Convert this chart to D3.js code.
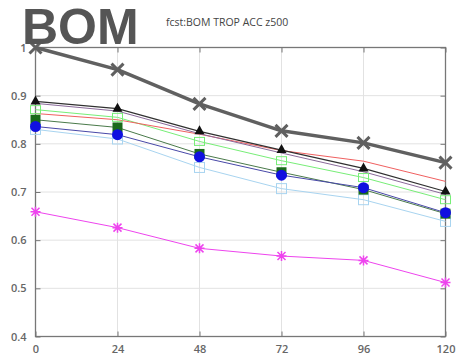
<!DOCTYPE html>
<html><head><meta charset="utf-8">
<script src="https://cdn.jsdelivr.net/npm/d3@7"></script>
<style>body{margin:0;background:#fff}svg{display:block}</style>
</head><body>
<svg id="c" width="462" height="360"></svg>
<script>
const leadTimes = [0, 24, 48, 72, 96, 120];
const yTicks = [0.4, 0.5, 0.6, 0.7, 0.8, 0.9, 1];
const sBest   = [1.0, 0.954, 0.883, 0.827, 0.802, 0.761];
const sBlack  = [0.888, 0.873, 0.826, 0.787, 0.749, 0.701];
const sPurple = [0.884, 0.868, 0.821, 0.781, 0.742, 0.695];
const sRed    = [0.863, 0.850, 0.820, 0.786, 0.764, 0.722];
const sLime   = [0.871, 0.855, 0.805, 0.765, 0.730, 0.684];
const sDkGrn  = [0.850, 0.834, 0.779, 0.741, 0.705, 0.655];
const sBlue   = [0.836, 0.819, 0.773, 0.735, 0.709, 0.657];
const sLtBlue = [0.830, 0.810, 0.751, 0.707, 0.684, 0.639];
const sMag    = [0.659, 0.626, 0.583, 0.567, 0.558, 0.512];

const series = [
  {v: sLtBlue, c: "#a8d4f0", w: 1, m: "osq"},
  {v: sMag, c: "#ee44ee", w: 1, m: "star"},
  {v: sLime, c: "#77ee77", w: 1, m: "osqg"},
  {v: sDkGrn, c: "#4a7a4a", w: 1, m: "sq"},
  {v: sBlue, c: "#4848a8", w: 1, m: "circ"},
  {v: sRed, c: "#f06060", w: 1, m: "none"},
  {v: sPurple, c: "#8a6a9a", w: 1, m: "none"},
  {v: sBlack, c: "#303030", w: 1.2, m: "tri"},
  {v: sBest, c: "#606060", w: 3.5, m: "x"}
];

const svg = d3.select("#c");
const x = d3.scaleLinear().domain([0, 120]).range([35.5, 445.5]);
const y = d3.scaleLinear().domain([0.4, 1]).range([336.5, 47.5]);

// grid
const g = svg.append("g");
g.selectAll(".gx").data(leadTimes.slice(1, -1)).join("line")
  .attr("x1", d => x(d)).attr("x2", d => x(d)).attr("y1", y(1)).attr("y2", y(0.4))
  .attr("stroke", "#e2e2e2").attr("stroke-width", 1);
g.selectAll(".gy").data(yTicks.slice(1, -1)).join("line")
  .attr("x1", x(0)).attr("x2", x(120)).attr("y1", d => y(d)).attr("y2", d => y(d))
  .attr("stroke", "#e2e2e2").attr("stroke-width", 1);

// frame
svg.append("rect").attr("x", x(0)).attr("y", y(1)).attr("width", x(120) - x(0)).attr("height", y(0.4) - y(1))
  .attr("fill", "none").attr("stroke", "#777").attr("stroke-width", 1.3);

// axes
const axB = svg.append("g").attr("transform", `translate(0,${y(0.4)})`)
  .call(d3.axisBottom(x).tickValues(leadTimes).tickSize(-5).tickPadding(9).tickFormat(d3.format("d")));
const axT = svg.append("g").attr("transform", `translate(0,${y(1)})`)
  .call(d3.axisTop(x).tickValues(leadTimes).tickSize(-5).tickFormat(""));
const axL = svg.append("g").attr("transform", `translate(${x(0)},0)`)
  .call(d3.axisLeft(y).tickValues(yTicks).tickSize(-5).tickPadding(9).tickFormat(d => d === 1 ? "1" : d3.format(".1f")(d)));
const axR = svg.append("g").attr("transform", `translate(${x(120)},0)`)
  .call(d3.axisRight(y).tickValues(yTicks).tickSize(-5).tickFormat(""));
[axB, axT, axL, axR].forEach(a => {
  a.select(".domain").remove();
  a.selectAll(".tick line").attr("stroke", "#777");
  a.selectAll("text").attr("fill", "#666").style("font-family", "'Open Sans', sans-serif").style("font-size", "11px").style("font-weight", "600");
});

// lines
const line = d3.line().x((d, i) => x(leadTimes[i])).y(d => y(d));
series.forEach(s => {
  svg.append("path").datum(s.v).attr("d", line).attr("fill", "none")
    .attr("stroke", s.c).attr("stroke-width", s.w).attr("stroke-linejoin", "round");
});
// markers
series.forEach(s => {
  const mg = svg.append("g");
  s.v.forEach((v, i) => {
    const cx = x(leadTimes[i]), cy = y(v);
    if (s.m === "x") {
      mg.append("path").attr("d", `M${cx-6},${cy-6}L${cx+6},${cy+6}M${cx-6},${cy+6}L${cx+6},${cy-6}`)
        .attr("stroke", s.c).attr("stroke-width", 3);
    } else if (s.m === "tri") {
      mg.append("path").attr("d", `M${cx},${cy-6}L${cx+5},${cy+3}L${cx-5},${cy+3}Z`).attr("fill", "#111");
    } else if (s.m === "sq") {
      mg.append("rect").attr("x", cx - 5).attr("y", cy - 5).attr("width", 10).attr("height", 10).attr("fill", "#1a6a1a");
    } else if (s.m === "circ") {
      mg.append("circle").attr("cx", cx).attr("cy", cy).attr("r", 5.5).attr("fill", "#1010e0");
    } else if (s.m === "osq") {
      mg.append("rect").attr("x", cx - 5).attr("y", cy - 5).attr("width", 10).attr("height", 10)
        .attr("fill", "none").attr("stroke", s.c).attr("stroke-width", 1);
    } else if (s.m === "osqg") {
      mg.append("rect").attr("x", cx - 5).attr("y", cy - 4).attr("width", 10).attr("height", 8)
        .attr("fill", "none").attr("stroke", s.c).attr("stroke-width", 1);
    } else if (s.m === "star") {
      mg.append("path").attr("d", `M${cx-5},${cy}L${cx+5},${cy}M${cx},${cy-5}L${cx},${cy+5}M${cx-4},${cy-4}L${cx+4},${cy+4}M${cx-4},${cy+4}L${cx+4},${cy-4}`)
        .attr("stroke", s.c).attr("stroke-width", 1.5);
    }
  });
});

// titles
svg.append("text").attr("x", 22).attr("y", 44).text("BOM")
  .attr("fill", "#555").style("font-family", "'Liberation Sans', Arial, sans-serif").style("font-size", "50px").style("font-weight", "bold");
svg.append("text").attr("x", 166).attr("y", 26).text("fcst:BOM TROP ACC z500")
  .attr("fill", "#444").style("font-family", "'Open Sans', sans-serif").style("font-size", "10.5px");
</script>
</body></html>
